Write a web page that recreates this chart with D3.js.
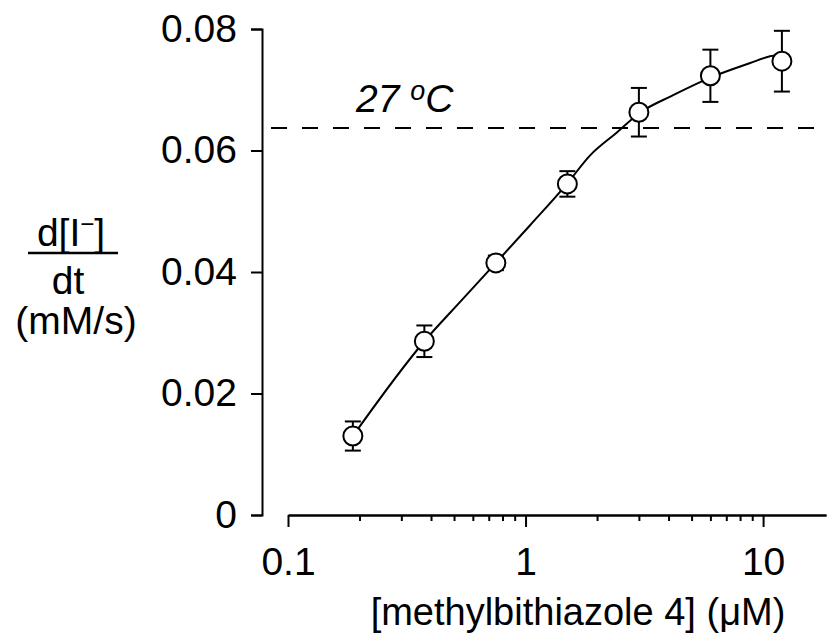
<!DOCTYPE html>
<html lang="en">
<head>
<meta charset="UTF-8">
<title>methylbithiazole 4 dose response</title>
<style>
  body { margin: 0; background: #fff; }
  text { font-family: "Liberation Sans", Arial, sans-serif; fill: #000; }
</style>
</head>
<body>
<script src="https://d3js.org/d3.v7.min.js"></script>
<script>
// measured points (concentration in uM, rate in mM/s, s.e.m.)
const conc = [0.1875, 0.375, 0.75, 1.5, 3, 6, 12]
const rate = [0.0130, 0.0286, 0.0415, 0.0545, 0.0663, 0.0723, 0.0747]
const sem  = [0.0024, 0.0026, 0.0012, 0.0021, 0.0040, 0.0043, 0.0050]

// fitted curve
const fitConc = [0.1875, 0.375, 0.54, 0.75, 1.045, 1.5, 1.87, 2.43, 3, 4.18, 6, 8.82, 10.7, 12]
const fitRate = [0.0130, 0.0286, 0.0354, 0.0415, 0.0477, 0.0546, 0.0592, 0.0630, 0.0661, 0.0691, 0.0720, 0.0744, 0.0755, 0.0758]

const refLevel = 0.0637   // 27 oC level
const yTicks = [0, 0.02, 0.04, 0.06, 0.08]
const xMajor = [0.1, 1, 10]
const xMinor = [0.2, 0.3, 0.4, 0.5, 0.6, 0.7, 0.8, 0.9, 2, 3, 4, 5, 6, 7, 8, 9]

const m = { width: 829, height: 639 }
const fs = 39

const svg = d3.select('body').append('svg')
    .attr('width', m.width)
    .attr('height', m.height)

const x = d3.scaleLog()
    .domain([0.1, 18.4])
    .range([288, 826])

const y = d3.scaleLinear()
    .domain([0, 0.08])
    .range([515, 29])

// y axis
const yAxis = svg.append('g')
    .attr('transform', 'translate(262,0)')
    .call(d3.axisLeft(y)
        .tickValues(yTicks)
        .tickSize(11)
        .tickSizeOuter(11)
        .tickPadding(14)
        .tickFormat(d => d === 0 ? '0' : d.toFixed(2)))

// x axis, minor ticks first then major
const xMinorAxis = svg.append('g')
    .attr('transform', 'translate(0,515)')
    .call(d3.axisBottom(x)
        .tickValues(xMinor)
        .tickSize(6)
        .tickSizeOuter(0)
        .tickFormat(''))

const xAxis = svg.append('g')
    .attr('transform', 'translate(0,515)')
    .call(d3.axisBottom(x)
        .tickValues(xMajor)
        .tickSize(12)
        .tickSizeOuter(0)
        .tickPadding(20)
        .tickFormat(d => d < 1 ? '0.1' : String(d)))

svg.selectAll('.domain, .tick line')
    .attr('stroke', '#000')
    .attr('stroke-width', 2)

svg.selectAll('.tick text')
    .style('font-family', '"Liberation Sans", Arial, sans-serif')
    .style('font-size', fs + 'px')
    .attr('fill', '#000')

// dashed reference line
svg.append('line')
    .attr('x1', 271)
    .attr('x2', m.width)
    .attr('y1', y(refLevel))
    .attr('y2', y(refLevel))
    .attr('stroke', '#000')
    .attr('stroke-width', 2)
    .attr('stroke-dasharray', '16,15')

const lbl = svg.append('text')
    .attr('x', 356)
    .attr('y', 112)
    .style('font-size', fs + 'px')
    .style('font-style', 'italic')
lbl.append('tspan').text('27 ')
lbl.append('tspan').text('o').style('font-size', '27px').attr('dy', -12)
lbl.append('tspan').text('C').attr('dy', 12)

// fitted curve
const fit = fitConc.map((c, i) => [c, fitRate[i]])
const line = d3.line()
    .x(d => x(d[0]))
    .y(d => y(d[1]))
    .curve(d3.curveMonotoneX)

svg.append('path')
    .datum(fit)
    .attr('d', line)
    .attr('fill', 'none')
    .attr('stroke', '#000')
    .attr('stroke-width', 2)

// error bars
const pts = conc.map((c, i) => ({ c: c, v: rate[i], e: sem[i] }))
const eb = svg.append('g').selectAll('g')
    .data(pts)
    .enter()
    .append('g')
    .attr('stroke', '#000')
    .attr('stroke-width', 2)

eb.append('line')
    .attr('x1', d => x(d.c)).attr('x2', d => x(d.c))
    .attr('y1', d => y(d.v - d.e)).attr('y2', d => y(d.v + d.e))
eb.append('line')
    .attr('x1', d => x(d.c) - 8).attr('x2', d => x(d.c) + 8)
    .attr('y1', d => y(d.v + d.e)).attr('y2', d => y(d.v + d.e))
eb.append('line')
    .attr('x1', d => x(d.c) - 8).attr('x2', d => x(d.c) + 8)
    .attr('y1', d => y(d.v - d.e)).attr('y2', d => y(d.v - d.e))

svg.append('g').selectAll('circle')
    .data(pts)
    .enter()
    .append('circle')
    .attr('cx', d => x(d.c))
    .attr('cy', d => y(d.v))
    .attr('r', 9.5)
    .attr('fill', '#fff')
    .attr('stroke', '#000')
    .attr('stroke-width', 2)

// axis titles
svg.append('text')
    .attr('x', 578)
    .attr('y', 625)
    .attr('text-anchor', 'middle')
    .style('font-size', '38px')
    .text('[methylbithiazole 4] (\u03bcM)')

const yl = svg.append('text')
    .attr('x', 71)
    .attr('y', 246)
    .attr('text-anchor', 'middle')
    .style('font-size', fs + 'px')
yl.append('tspan').text('d[I')
yl.append('tspan').text('\u2212').style('font-size', '24px').attr('dy', -14)
yl.append('tspan').text(']').attr('dy', 14)

svg.append('line')
    .attr('x1', 28).attr('x2', 118)
    .attr('y1', 253).attr('y2', 253)
    .attr('stroke', '#000')
    .attr('stroke-width', 2.5)

svg.append('text')
    .attr('x', 68)
    .attr('y', 294)
    .attr('text-anchor', 'middle')
    .style('font-size', fs + 'px')
    .text('dt')

svg.append('text')
    .attr('x', 76)
    .attr('y', 334)
    .attr('text-anchor', 'middle')
    .style('font-size', fs + 'px')
    .text('(mM/s)')
</script>
</body>
</html>
